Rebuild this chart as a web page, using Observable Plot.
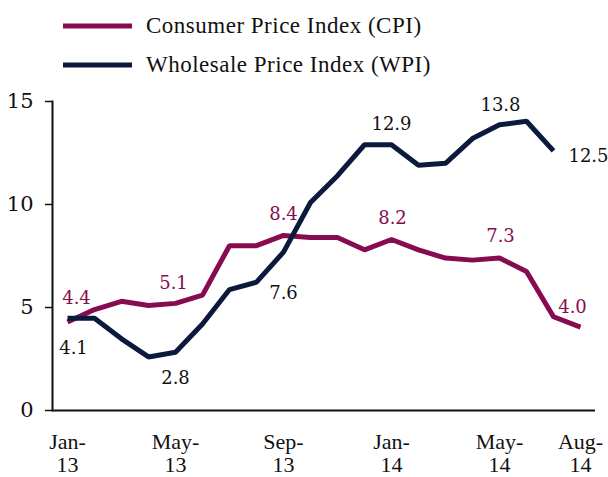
<!DOCTYPE html>
<html>
<head>
<meta charset="utf-8">
<script src="https://cdn.jsdelivr.net/npm/d3@7"></script>
<script src="https://cdn.jsdelivr.net/npm/@observablehq/plot@0.6"></script>
<style>
  html, body { margin: 0; padding: 0; background: #fff; }
  #wrap { width: 608px; height: 477px; position: relative; overflow: hidden; }
  #legend { position: relative; width: 608px; height: 85px; font-family: "Liberation Serif", serif; font-size: 23px; letter-spacing: 0.5px; color: #111; }
  .item { position: absolute; left: 0; height: 30px; display: flex; align-items: center; }
  .item svg { position: absolute; left: 63px; }
  .item span { position: absolute; left: 146px; white-space: nowrap; }
</style>
</head>
<body>
<div id="wrap">
  <div id="legend"></div>
  <div id="chart"></div>
</div>
<script>
// ---- data ----
const months = ["Jan-13","Feb-13","Mar-13","Apr-13","May-13","Jun-13","Jul-13","Aug-13","Sep-13","Oct-13","Nov-13","Dec-13",
                "Jan-14","Feb-14","Mar-14","Apr-14","May-14","Jun-14","Jul-14","Aug-14"];
const cpi = [4.3, 4.9, 5.3, 5.1, 5.2, 5.6, 8.0, 8.0, 8.5, 8.4, 8.4, 7.8, 8.3, 7.8, 7.4, 7.3, 7.4, 6.75, 4.55, 4.05];
const wpi = [4.48, 4.48, 3.48, 2.6, 2.83, 4.2, 5.87, 6.23, 7.69, 10.1, 11.4, 12.9, 12.9, 11.9, 12.0, 13.2, 13.87, 14.04, 12.6, null];
const seriesNames = ["Consumer Price Index (CPI)", "Wholesale Price Index (WPI)"];
const cpiLabelMonths = [0, 4, 8, 12, 16, 19];
const cpiLabelValues = [4.4, 5.1, 8.4, 8.2, 7.3, 4.0];
const wpiLabelMonths = [0, 4, 8, 12, 16, 19];
const wpiLabelValues = [4.1, 2.8, 7.6, 12.9, 13.8, 12.5];
const xTickMonths = [0, 4, 8, 12, 16, 19];
const yTicks = [0, 5, 10, 15];

// ---- styles ----
const colors = ["#870b50", "#0b1a3c"];
const labelColors = ["#870b50", "#111111"];
const cpiLabelOffsets = [[9, -22], [-2, -22], [0, -23], [1, -23], [1, -24], [-8, -21]];
const wpiLabelOffsets = [[6, 22], [0, 25], [0, 39], [0, -21], [1, -21], [8, 3]];

// legend
const legend = document.getElementById("legend");
const rowCenters = [26, 65];
seriesNames.forEach((name, i) => {
  const item = document.createElement("div");
  item.className = "item";
  item.style.top = (rowCenters[i] - 15) + "px";
  item.style.width = "608px";
  item.innerHTML = `<svg width="70" height="30"><line x1="0" x2="69" y1="15" y2="15" stroke="${colors[i]}" stroke-width="5"/></svg><span>${name}</span>`;
  legend.appendChild(item);
});

const cpiData = months.map((m, i) => ({i, v: cpi[i]}));
const wpiData = months.map((m, i) => ({i, v: wpi[i]}));

const labelMarks = [];
cpiLabelMonths.forEach((m, k) => {
  labelMarks.push(Plot.text([{i: m, v: cpiLabelValues[k]}], {
    x: "i", y: "v", text: d => d.v.toFixed(1), fill: labelColors[0],
    dx: cpiLabelOffsets[k][0], dy: cpiLabelOffsets[k][1],
    fontSize: 18, fontFamily: "DejaVu Serif"
  }));
});
wpiLabelMonths.forEach((m, k) => {
  labelMarks.push(Plot.text([{i: m, v: wpiLabelValues[k]}], {
    x: "i", y: "v", text: d => d.v.toFixed(1), fill: labelColors[1],
    dx: wpiLabelOffsets[k][0], dy: wpiLabelOffsets[k][1],
    fontSize: 18, fontFamily: "DejaVu Serif"
  }));
});

const chart = Plot.plot({
  width: 608,
  height: 392,
  marginTop: 16,
  marginBottom: 67,
  marginLeft: 52,
  marginRight: 13,
  style: {fontFamily: "Liberation Serif", fontSize: "22px", color: "#111", background: "#fff", overflow: "visible"},
  x: {type: "linear", domain: [-0.556, 19.556]},
  y: {domain: [0, 15]},
  marks: [
    Plot.axisX({
      ticks: xTickMonths, tickSize: 0, tickPadding: 22, lineHeight: 1.05,
      tickFormat: i => months[i].replace("-", "-\n"), label: null,
      fontSize: 22, fontFamily: "Liberation Serif", fill: "#111"
    }),
    Plot.axisY({
      ticks: yTicks, tickSize: 7, tickPadding: 12, label: null,
      fontSize: 21, fontFamily: "DejaVu Serif", fill: "#111", stroke: "#111", strokeWidth: 1.5
    }),
    Plot.frame({anchor: "left", stroke: "#111", strokeWidth: 2}),
    Plot.ruleY([0], {stroke: "#111", strokeWidth: 2}),
    Plot.line(cpiData, {x: "i", y: "v", stroke: colors[0], strokeWidth: 5, strokeLinejoin: "miter", strokeLinecap: "butt"}),
    Plot.line(wpiData, {x: "i", y: "v", stroke: colors[1], strokeWidth: 5, strokeLinejoin: "miter", strokeLinecap: "butt"}),
    ...labelMarks
  ]
});
document.getElementById("chart").appendChild(chart);
</script>
</body>
</html>
